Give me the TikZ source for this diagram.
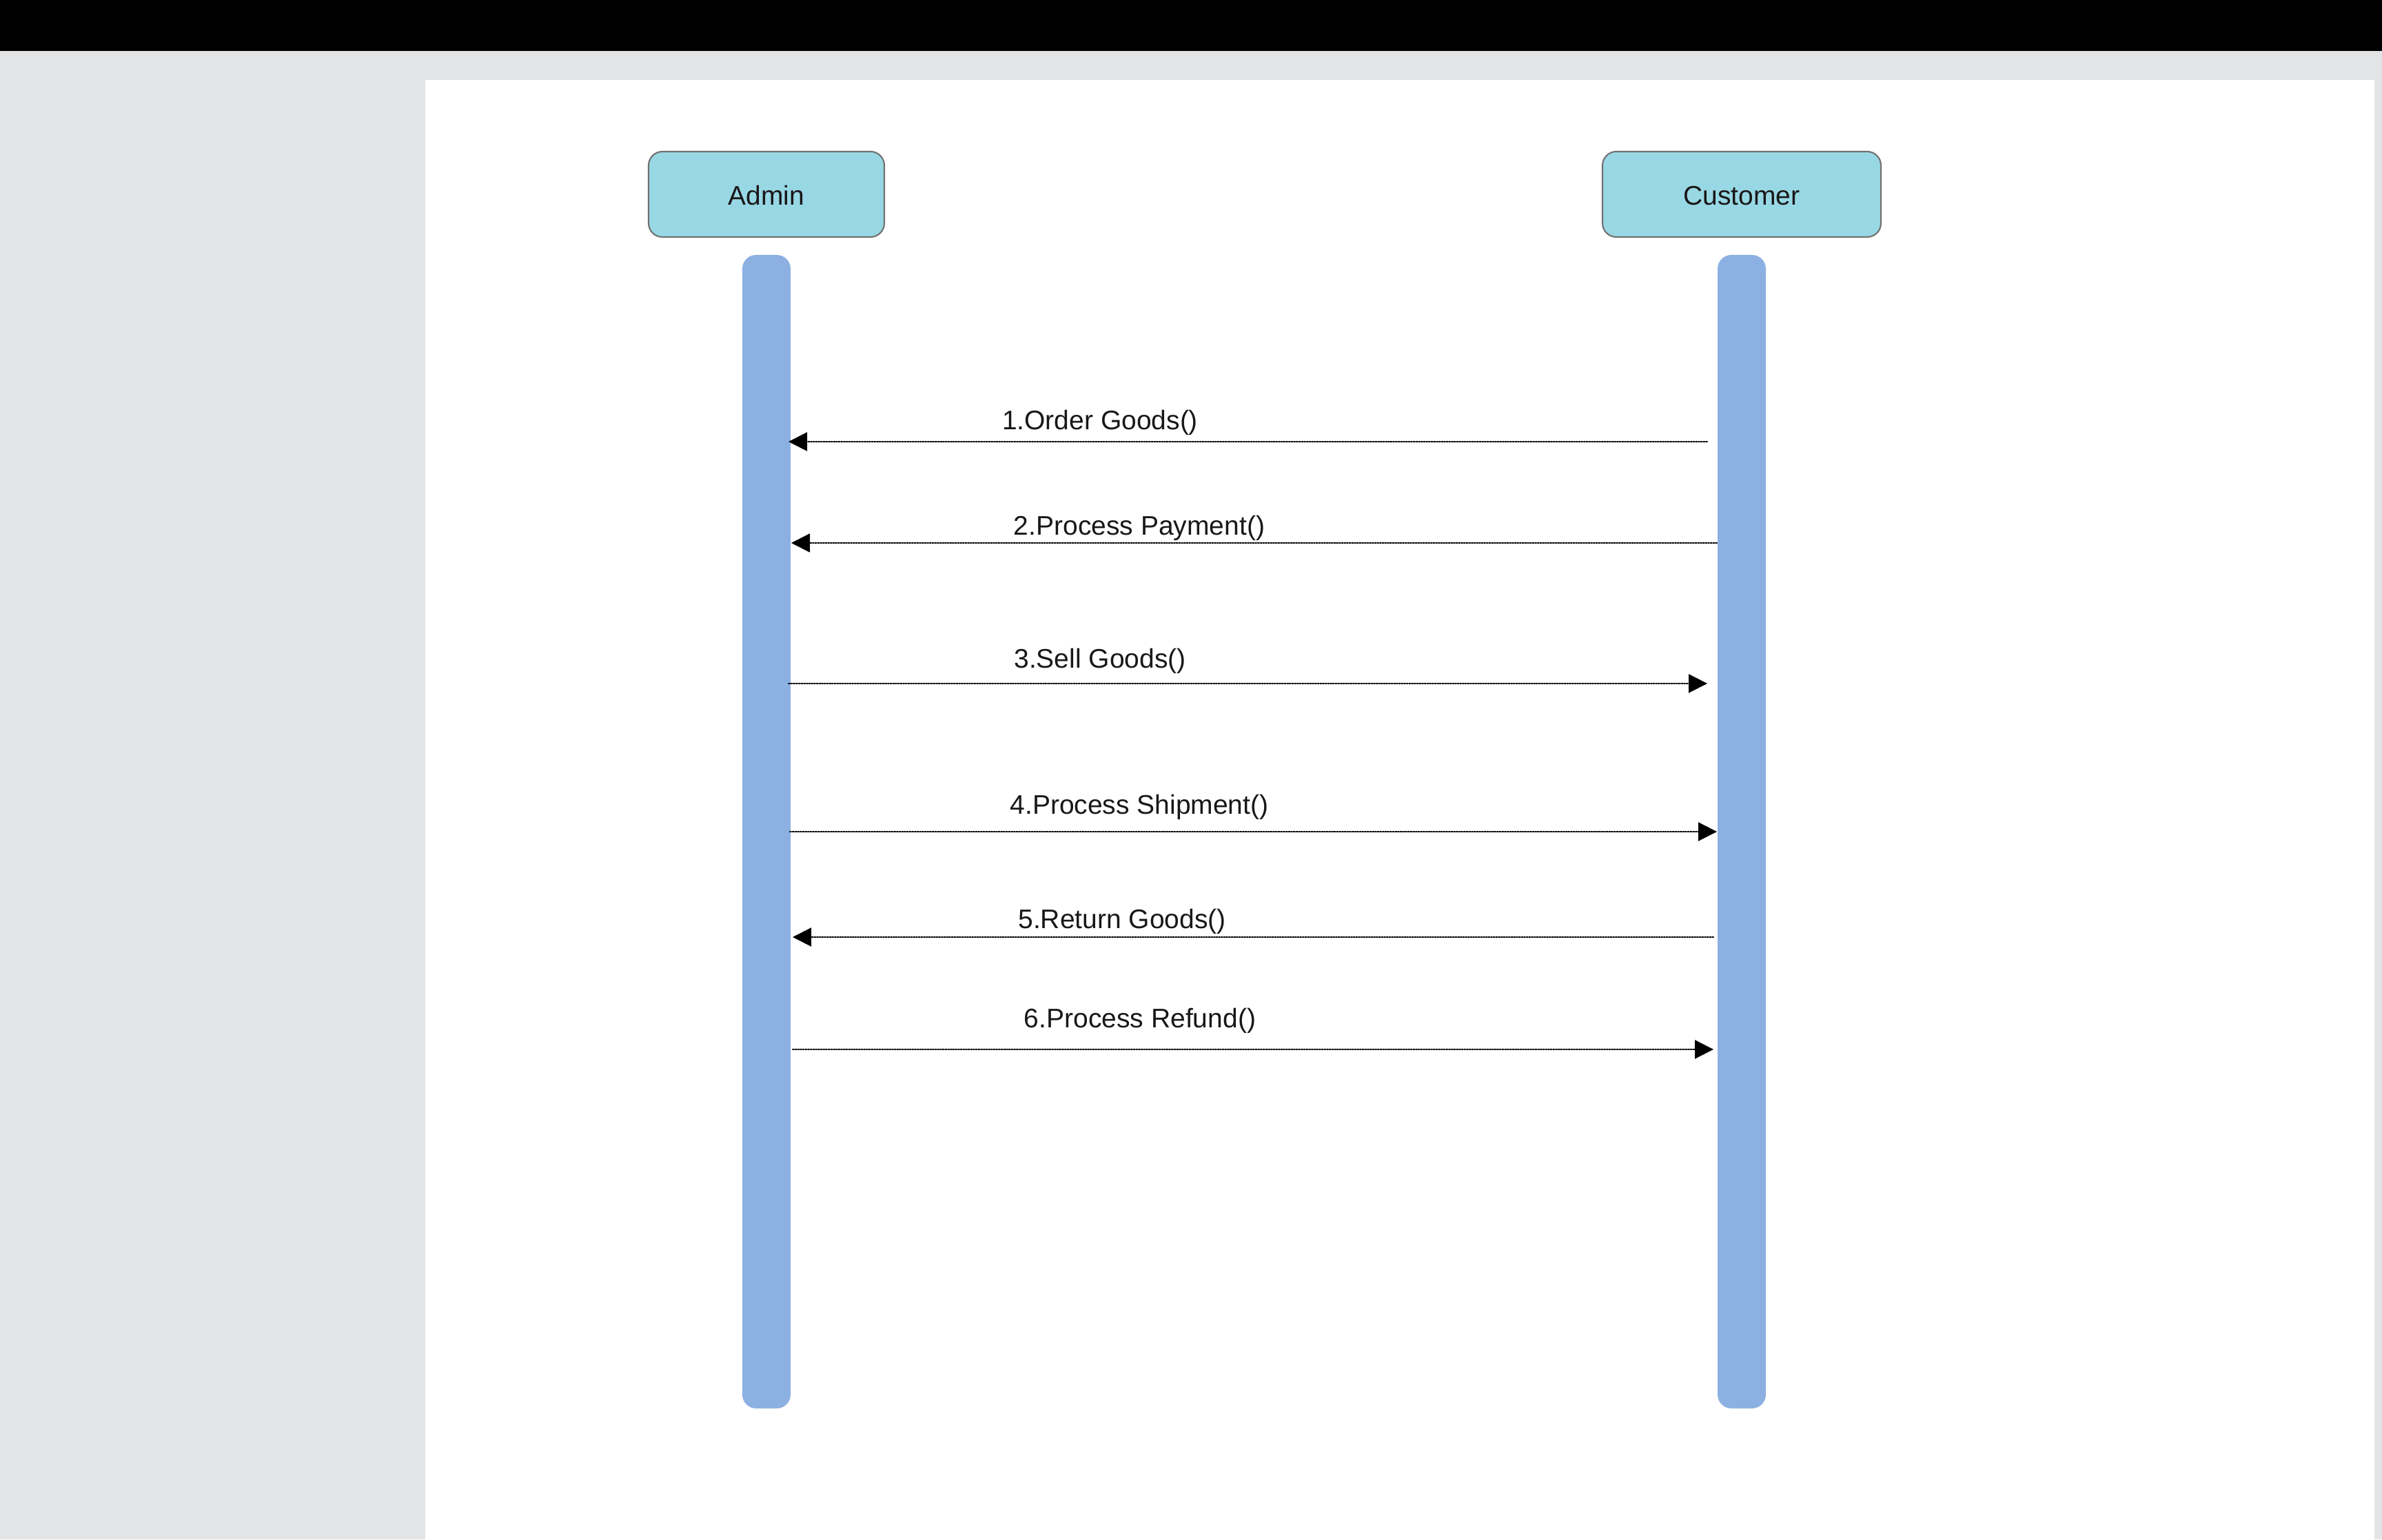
\documentclass[tikz,border=0pt]{standalone}
\usepackage{fontspec}
\setmainfont{Liberation Sans}
\usepackage{tkz-euclide}
\usetikzlibrary{arrows.meta}

\definecolor{pagegray}{HTML}{E3E4E6}
\definecolor{headfill}{HTML}{98D8E4}
\definecolor{headline}{HTML}{717171}
\definecolor{barblue}{HTML}{8DB0E2}
\definecolor{ink}{HTML}{1A1718}

\tikzset{
	actor/.style={draw=headline,fill=headfill,rounded corners=0.2cm,line width=0.6pt,
		minimum height=1.24cm,inner sep=0pt,text height=0.32cm,text depth=0pt,
		text=ink,font=\fontsize{11.1}{13}\selectfont},
	lifeline/.style={fill=barblue,rounded corners=0.2cm,minimum width=0.7cm,
		minimum height=16.74cm,inner sep=0pt},
	msg/.style={black,line width=0.6pt,dash pattern=on 0.55pt off 0.5pt,
		-{Triangle[length=0.27cm,width=0.27cm]}},
	msglabel/.style={anchor=base,inner sep=0pt,text=ink,font=\fontsize{11.1}{13}\selectfont}
}

\begin{document}
\begin{tikzpicture}
		\useasboundingbox (0,0) rectangle (34.56,22.34);
		\fill[pagegray] (0,0) rectangle (34.56,22.34);
		\fill[black] (0,21.60) rectangle (34.56,22.34);
		\fill[white] (6.17,0) rectangle (34.45,21.18);

		% actors and lifelines
		\node[actor,minimum width=3.42cm] (admin) at (11.12,19.52) {Admin};
		\node[actor,minimum width=4.04cm] (customer) at (25.27,19.52) {Customer};
		\node[lifeline] (adminBar) at (11.12,10.27) {};
		\node[lifeline] (customerBar) at (25.27,10.27) {};

		% message ends
		\tkzDefPoints{24.77/15.93/C1, 11.44/15.93/A1,
			24.91/14.46/C2, 11.48/14.46/A2,
			11.44/12.42/A3, 24.77/12.42/C3,
			11.46/10.27/A4, 24.91/10.27/C4,
			24.86/8.74/C5, 11.50/8.74/A5,
			11.50/7.11/A6, 24.86/7.11/C6}

		\tkzDrawSegments[msg](C1,A1 C2,A2 C5,A5)
		\tkzDrawSegments[msg](A3,C3 A4,C4 A6,C6)

		\node[msglabel] (lab1) at (15.96,16.10) {1.Order Goods()};
		\node[msglabel] (lab2) at (16.53,14.57) {2.Process Payment()};
		\node[msglabel] (lab3) at (15.96,12.64) {3.Sell Goods()};
		\node[msglabel] (lab4) at (16.53,10.52) {4.Process Shipment()};
		\node[msglabel] (lab5) at (16.28,8.86) {5.Return Goods()};
		\node[msglabel] (lab6) at (16.54,7.42) {6.Process Refund()};
	\end{tikzpicture}
\end{document}
